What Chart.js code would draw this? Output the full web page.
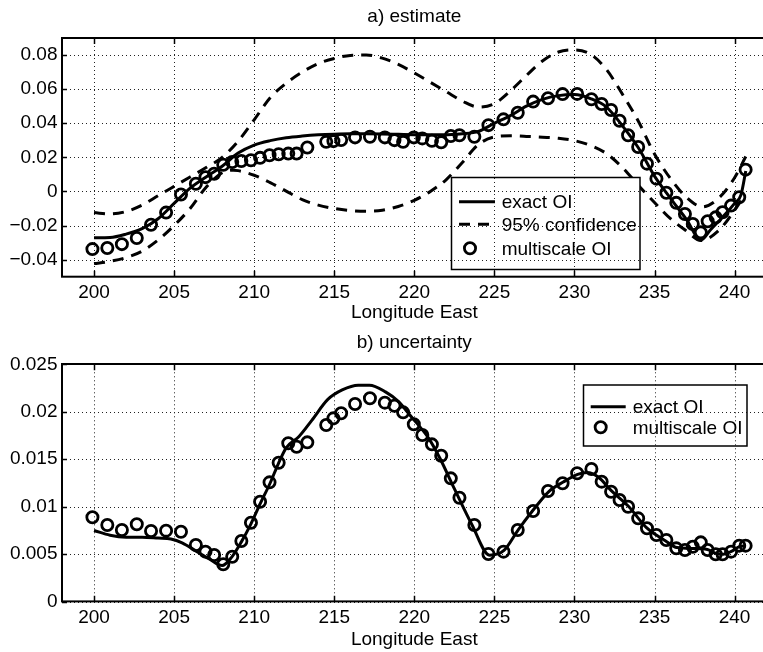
<!DOCTYPE html>
<html>
<head>
<meta charset="utf-8">
<script src="https://cdn.jsdelivr.net/npm/chart.js@4/dist/chart.umd.min.js"></script>
<style>
html, body { margin: 0; padding: 0; background: #fff; overflow: hidden; }
#wrap { position: relative; width: 763px; height: 652px; overflow: hidden; background: #fff; }
#estBox { position: absolute; left: 0; top: 0; }
#uncBox { position: absolute; left: 0; top: 325px; }
</style>
</head>
<body>
<div id="wrap">
  <div id="estBox"><canvas id="estChart" width="775" height="325"></canvas></div>
  <div id="uncBox"><canvas id="uncChart" width="775" height="327"></canvas></div>
</div>
<script>
// Axis ticks
const X_TICKS = [200, 205, 210, 215, 220, 225, 230, 235, 240];
const EST_Y_TICKS = [-0.04, -0.02, 0, 0.02, 0.04, 0.06, 0.08];
const EST_Y_LABELS = ['\u22120.04', '\u22120.02', '0', '0.02', '0.04', '0.06', '0.08'];
const UNC_Y_TICKS = [0, 0.005, 0.01, 0.015, 0.02, 0.025];
const UNC_Y_LABELS = ['0', '0.005', '0.01', '0.015', '0.02', '0.025'];

// a) estimate - exact OI
const EXACT_EST_X = [200, 201, 202, 203, 204, 205, 206, 207, 208, 209, 210, 211, 212, 213, 214, 215, 216, 217, 218, 219,
    220, 221, 222, 223, 224, 225, 226, 227, 228, 229, 230, 231, 232, 233, 234, 235, 236, 237, 237.9, 238.5,
    239, 239.5, 240, 240.4, 240.7];
const EXACT_EST = [-0.0272, -0.0270, -0.0250, -0.0218, -0.0160, -0.0070, 0.0020, 0.0085, 0.0148, 0.0225,
    0.0272, 0.0298, 0.0315, 0.0325, 0.0332, 0.0336, 0.0338, 0.0338, 0.0337, 0.0335,
    0.0333, 0.0332, 0.0333, 0.0338, 0.0352, 0.0400, 0.0445, 0.0500, 0.0540, 0.0562,
    0.0568, 0.0545, 0.0495, 0.0385, 0.0255, 0.0090, -0.0040, -0.0165, -0.0285, -0.0225,
    -0.0175, -0.0125, -0.0070, -0.0020, 0.0120];

// a) estimate - 95% confidence bounds
const UPPER_X = [200, 201, 202, 203, 204, 205, 206, 207, 208, 209, 210, 211, 212, 213, 214, 215, 216, 217, 218, 219,
    220, 221, 222, 223, 224, 225, 226, 227, 228, 229, 230, 231, 232, 233, 234, 235, 236, 237, 238, 239, 240, 240.7];
const UPPER = [-0.0124, -0.0132, -0.0118, -0.0080, -0.0025, 0.0030, 0.0085, 0.0140, 0.0200, 0.0295,
    0.0420, 0.0550, 0.0635, 0.0700, 0.0750, 0.0780, 0.0798, 0.0800, 0.0782, 0.0745,
    0.0695, 0.0640, 0.0585, 0.0530, 0.0495, 0.0515, 0.0590, 0.0680, 0.0765, 0.0818,
    0.0830, 0.0805, 0.0715, 0.0570, 0.0410, 0.0220, 0.0075, -0.0035, -0.0090, -0.0040,
    0.0080, 0.0205];
const LOWER_X = [200, 201, 202, 203, 204, 205, 206, 207, 208, 208.7, 209, 210, 211, 212, 213, 214, 215, 216, 217, 218,
    219, 220, 221, 222, 223, 224, 225, 226, 227, 228, 229, 230, 231, 232, 233, 234, 235, 236, 237, 237.9,
    239, 240, 240.5];
const LOWER = [-0.0423, -0.0410, -0.0388, -0.0350, -0.0285, -0.0200, -0.0100, 0.0025, 0.0110, 0.0125,
    0.0122, 0.0095, 0.0052, 0.0002, -0.0048, -0.0080, -0.0100, -0.0112, -0.0116, -0.0110,
    -0.0088, -0.0052, 0.0000, 0.0070, 0.0170, 0.0275, 0.0320, 0.0326, 0.0323, 0.0318,
    0.0312, 0.0298, 0.0270, 0.0222, 0.0140, 0.0035, -0.0065, -0.0160, -0.0232, -0.0288,
    -0.0230, -0.0110, -0.0040];

// multiscale OI (same locations in both panels)
const MS_X = [199.9, 200.83, 201.74, 202.67, 203.56, 204.5, 205.43, 206.36, 206.96, 207.5,
    208.07, 208.63, 209.2, 209.8, 210.37, 210.96, 211.53, 212.13, 212.65, 213.32,
    214.5, 214.95, 215.43, 216.3, 217.23, 218.16, 218.76, 219.3, 219.97, 220.5,
    221.1, 221.68, 222.28, 222.82, 223.75, 224.63, 225.57, 226.46, 227.42, 228.35,
    229.26, 230.17, 231.06, 231.7, 232.29, 232.82, 233.35, 233.98, 234.53, 235.12,
    235.74, 236.36, 236.9, 237.39, 237.89, 238.32, 238.82, 239.25, 239.78, 240.29, 240.69];
const MS_EST = [-0.0338, -0.0332, -0.0309, -0.0273, -0.0195, -0.0124, -0.0018, 0.0045, 0.0084, 0.0104,
    0.0157, 0.0173, 0.0179, 0.0183, 0.0197, 0.0212, 0.0218, 0.0222, 0.0222, 0.0258,
    0.0291, 0.0295, 0.0302, 0.0317, 0.0321, 0.0317, 0.0301, 0.0291, 0.0317, 0.0311,
    0.0297, 0.0289, 0.0325, 0.0330, 0.0321, 0.0389, 0.0423, 0.0462, 0.0527, 0.0547,
    0.0571, 0.0572, 0.0541, 0.0513, 0.0478, 0.0415, 0.0330, 0.0261, 0.0163, 0.0075,
    -0.0008, -0.0067, -0.0132, -0.0191, -0.0240, -0.0175, -0.0152, -0.0122, -0.0083, -0.0034, 0.0128];
const MS_UNC = [0.00889, 0.00808, 0.00755, 0.00815, 0.00744, 0.00748, 0.00737, 0.00597, 0.00527, 0.00492,
    0.00394, 0.00474, 0.00639, 0.00832, 0.01053, 0.01257, 0.01464, 0.01668, 0.01632, 0.01678,
    0.01861, 0.01931, 0.01984, 0.02082, 0.02142, 0.02096, 0.02064, 0.01994, 0.01868, 0.01755,
    0.01657, 0.01537, 0.01299, 0.01095, 0.00808, 0.00502, 0.00527, 0.00755, 0.00955, 0.01166,
    0.01247, 0.01352, 0.01397, 0.01264, 0.01158, 0.01071, 0.01000, 0.00878, 0.00773, 0.00702,
    0.00650, 0.00562, 0.00544, 0.00579, 0.00625, 0.00544, 0.00499, 0.00499, 0.00527, 0.00590, 0.00590];

// b) uncertainty - exact OI
const EXACT_UNC_X = [200, 201, 202, 203, 204, 204.8, 205.5, 206.4, 207.2, 208, 208.6, 209.2, 209.8, 210.4, 211,
    211.5, 212, 212.8, 213.6, 214.6, 215.5, 216.5, 217.2, 218.2, 219, 219.8, 220.9, 221.6, 222.5,
    223.6, 224.7, 225.6, 226.5, 227.4, 228.4, 229.3, 230.2, 230.8, 231.5, 232.3, 233.4, 234.5,
    235.7, 236.4, 237.4, 238.3, 238.8, 239.3, 239.8, 240.3, 240.7];
const EXACT_UNC = [0.0075, 0.0070, 0.0068, 0.0068, 0.0067, 0.0066, 0.0062, 0.0053, 0.0045, 0.0038,
    0.0047, 0.0063, 0.0082, 0.0104, 0.0125, 0.0145, 0.0162, 0.0174, 0.0191, 0.0213,
    0.0223, 0.0228, 0.0228, 0.0221, 0.0211, 0.0195, 0.0172, 0.0151, 0.0119, 0.0081,
    0.0049, 0.0054, 0.0076, 0.0096, 0.0116, 0.0126, 0.0134, 0.0136, 0.0131, 0.0117,
    0.0100, 0.0078, 0.0064, 0.0057, 0.0056, 0.0055, 0.0051, 0.0050, 0.0053, 0.0058, 0.0059];

const FONT = "'Liberation Sans', Arial, Helvetica, sans-serif";
const FS = 19;
Chart.defaults.font.family = FONT;
Chart.defaults.color = '#000';

const pts = (xs, ys) => xs.map((x, i) => ({ x: x, y: ys[i] }));

function drawGrid(chart) {
    const ctx = chart.ctx;
    const area = chart.chartArea;
    const xs = chart.scales.x, ys = chart.scales.y;
    ctx.save();
    ctx.strokeStyle = '#222';
    ctx.lineWidth = 1;
    ctx.setLineDash([1, 3]);
    xs.ticks.forEach(t => {
        const px = Math.round(xs.getPixelForValue(t.value)) + 0.5;
        ctx.beginPath();
        ctx.moveTo(px, area.top);
        ctx.lineTo(px, area.bottom);
        ctx.stroke();
    });
    ys.ticks.forEach(t => {
        const py = Math.round(ys.getPixelForValue(t.value)) + 0.5;
        ctx.beginPath();
        ctx.moveTo(area.left, py);
        ctx.lineTo(area.right, py);
        ctx.stroke();
    });
    ctx.restore();
}

// MATLAB-like axes: dotted grid, box frame, inward ticks, boxed legend
const matlabAxes = {
    id: 'matlabAxes',
    beforeDatasetsDraw(chart) {
        drawGrid(chart);
    },
    afterDatasetsDraw(chart, args, opts) {
        const ctx = chart.ctx;
        const area = chart.chartArea;
        const xs = chart.scales.x, ys = chart.scales.y;
        ctx.save();
        ctx.strokeStyle = '#000';
        ctx.lineWidth = 1.5;
        ctx.beginPath();
        xs.ticks.forEach(t => {
            const px = Math.round(xs.getPixelForValue(t.value)) + 0.5;
            ctx.moveTo(px, area.bottom); ctx.lineTo(px, area.bottom - 6);
            ctx.moveTo(px, area.top); ctx.lineTo(px, area.top + 6);
        });
        ys.ticks.forEach(t => {
            const py = Math.round(ys.getPixelForValue(t.value)) + 0.5;
            ctx.moveTo(area.left, py); ctx.lineTo(area.left + 5, py);
        });
        ctx.stroke();
        ctx.lineWidth = 2;
        ctx.strokeRect(Math.round(area.left), Math.round(area.top), area.right - area.left, area.bottom - area.top);
        ctx.restore();

        // legend
        const lg = opts.legend;
        if (!lg) return;
        ctx.save();
        ctx.fillStyle = '#fff';
        ctx.fillRect(lg.x, lg.y, lg.w, lg.h);
        ctx.beginPath();
        ctx.rect(lg.x, lg.y, lg.w, lg.h);
        ctx.clip();
        drawGrid(chart);
        ctx.restore();
        ctx.save();
        ctx.strokeStyle = '#000';
        ctx.lineWidth = 1.5;
        ctx.strokeRect(lg.x, lg.y, lg.w, lg.h);
        ctx.font = FS + 'px ' + FONT;
        ctx.textBaseline = 'middle';
        ctx.textAlign = 'left';
        ctx.fillStyle = '#000';
        lg.items.forEach((di, k) => {
            const ds = chart.data.datasets[di];
            const y = lg.rows[k];
            if (ds.showLine === false) {
                ctx.setLineDash([]);
                ctx.lineWidth = ds.borderWidth;
                ctx.beginPath();
                ctx.arc(lg.markerX, y, ds.pointRadius, 0, Math.PI * 2);
                ctx.stroke();
            } else {
                ctx.setLineDash(ds.borderDash || []);
                ctx.lineWidth = ds.borderWidth;
                ctx.beginPath();
                ctx.moveTo(lg.lineX0, y);
                ctx.lineTo(lg.lineX1, y);
                ctx.stroke();
            }
            ctx.fillText(ds.label, lg.textX, y + 1);
        });
        ctx.restore();
    }
};

function makeScales(yMin, yMax, yTicks, yLabels, xHeight) {
    return {
        x: {
            type: 'linear', min: 198, max: 242,
            afterBuildTicks: s => { s.ticks = X_TICKS.map(v => ({ value: v })); },
            afterFit: s => { s.height = xHeight; },
            grid: { display: false, drawTicks: false },
            border: { display: false },
            ticks: { color: '#000', font: { size: FS }, padding: 4.9, maxRotation: 0, autoSkip: false,
                callback: v => String(v) },
            title: { display: true, text: 'Longitude East', color: '#000', font: { size: FS },
                padding: { top: 0, bottom: 0.6 } }
        },
        y: {
            type: 'linear', min: yMin, max: yMax,
            afterBuildTicks: s => { s.ticks = yTicks.map(v => ({ value: v })); },
            afterFit: s => { s.width = 62; },
            grid: { display: false, drawTicks: false },
            border: { display: false },
            ticks: { color: '#000', font: { size: FS }, padding: 4.5, autoSkip: false,
                callback: (v, i) => yLabels[i] }
        }
    };
}

const solid = { borderColor: '#000', borderWidth: 3, pointRadius: 0, fill: false,
    cubicInterpolationMode: 'monotone' };
const dashed = { borderColor: '#000', borderWidth: 3, pointRadius: 0, fill: false,
    borderDash: [11, 8], cubicInterpolationMode: 'monotone' };
const circles = { borderColor: '#000', backgroundColor: 'rgba(0,0,0,0)', borderWidth: 2.8,
    pointRadius: 5.6, pointStyle: 'circle', showLine: false };

new Chart(document.getElementById('estChart'), {
    type: 'line',
    data: {
        datasets: [
            Object.assign({ label: 'exact OI', data: pts(EXACT_EST_X, EXACT_EST) }, solid),
            Object.assign({ label: '95% confidence', data: pts(UPPER_X, UPPER) }, dashed),
            Object.assign({ label: '95% confidence', data: pts(LOWER_X, LOWER) }, dashed),
            Object.assign({ label: 'multiscale OI', data: pts(MS_X, MS_EST) }, circles)
        ]
    },
    options: {
        responsive: false, animation: false, devicePixelRatio: 1,
        layout: { padding: { left: 0, right: 5, top: 0, bottom: 0 } },
        scales: makeScales(-0.05, 0.09, EST_Y_TICKS, EST_Y_LABELS, 48.3),
        plugins: {
            legend: { display: false },
            tooltip: { enabled: false },
            title: { display: true, text: 'a) estimate', color: '#000', fullSize: false,
                font: { size: FS, weight: 'normal' }, padding: { top: 5.6, bottom: 9.6 } },
            matlabAxes: {
                legend: { x: 451.5, y: 177.5, w: 188.5, h: 92, items: [0, 1, 3],
                    rows: [201.7, 224.3, 248.3], lineX0: 459, lineX1: 495, markerX: 470, textX: 501.7 }
            }
        }
    },
    plugins: [matlabAxes]
});

new Chart(document.getElementById('uncChart'), {
    type: 'line',
    data: {
        datasets: [
            Object.assign({ label: 'exact OI', data: pts(EXACT_UNC_X, EXACT_UNC) }, solid),
            Object.assign({ label: 'multiscale OI', data: pts(MS_X, MS_UNC) }, circles)
        ]
    },
    options: {
        responsive: false, animation: false, devicePixelRatio: 1,
        layout: { padding: { left: 0, right: 5, top: 0, bottom: 0 } },
        scales: makeScales(0, 0.025, UNC_Y_TICKS, UNC_Y_LABELS, 50.3),
        plugins: {
            legend: { display: false },
            tooltip: { enabled: false },
            title: { display: true, text: 'b) uncertainty', color: '#000', fullSize: false,
                font: { size: FS, weight: 'normal' }, padding: { top: 6.6, bottom: 9.9 } },
            matlabAxes: {
                legend: { x: 583.5, y: 60, w: 163.5, h: 61, items: [0, 1],
                    rows: [81.7, 102.3], lineX0: 590.7, lineX1: 625.7, markerX: 600.7, textX: 632.7 }
            }
        }
    },
    plugins: [matlabAxes]
});
</script>
</body>
</html>
